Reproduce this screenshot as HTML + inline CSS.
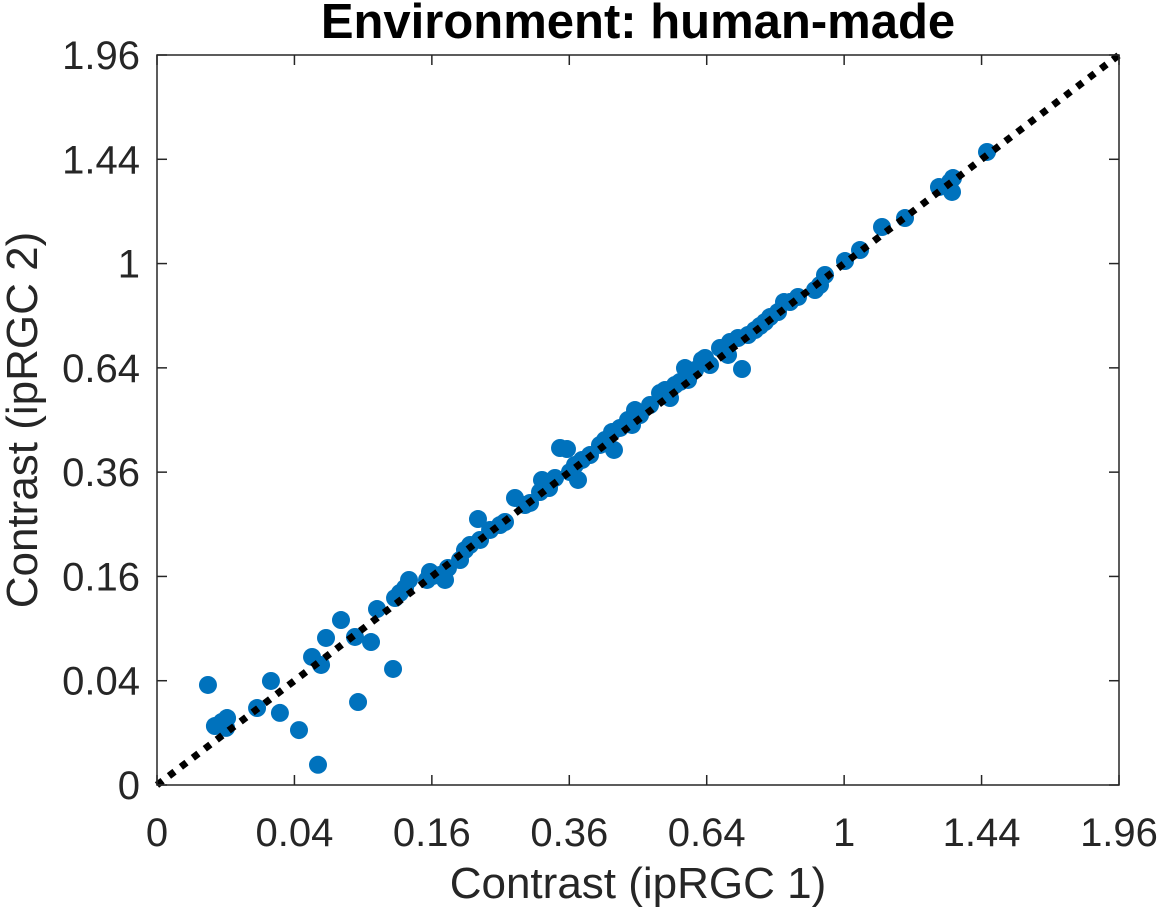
<!DOCTYPE html>
<html><head><meta charset="utf-8"><style>
body{margin:0;background:#fff;}
svg text{font-family:"Liberation Sans",Arial,sans-serif;fill:#262626;}
</style></head><body>
<svg id="chart" width="1161" height="916" xmlns="http://www.w3.org/2000/svg">
<text x="638" y="38" text-anchor="middle" font-size="49" font-weight="bold" style="fill:#000">Environment: human-made</text>
<g id="marks"></g>
<line id="diag" stroke="#000" stroke-width="7" stroke-dasharray="7 8"/>
<rect x="157" y="55" width="962" height="730" fill="none" stroke="#262626" stroke-width="1.5"/>
<g id="ticks"></g>
<text x="638" y="898" text-anchor="middle" font-size="44">Contrast (ipRGC 1)</text>
<text transform="translate(37,420) rotate(-90)" text-anchor="middle" font-size="44">Contrast (ipRGC 2)</text>
</svg>
<script>
const tickValues=[0,0.04,0.16,0.36,0.64,1,1.44,1.96];
const tickLabels=["0","0.04","0.16","0.36","0.64","1","1.44","1.96"];
const xValues=[.0055,.0071,.0089,.0104,.0101,.0212,.0275,.0320,.0427,.0509,.0549,.0570,.0605,.0717,.0830,.0856,.0970,.1025,.1180,.1200,.1250,.1303,.1345,.1544,.1578,.1613,.1696,.1757,.1793,.1945,.2009,.2075,.2182,.2210,.2349,.2492,.2565,.2714,.2868,.2947,.3107,.3139,.3255,.3355,.3440,.3560,.3612,.3700,.3754,.3826,.3971,.4156,.4251,.4385,.4423,.4540,.4698,.4779,.4839,.4941,.5148,.5359,.5466,.5574,.5683,.5793,.5904,.5972,.6130,.6291,.6361,.6477,.6713,.6906,.6954,.7149,.7248,.7398,.7574,.7701,.7829,.7959,.8168,.8326,.8486,.8702,.9170,.9310,.9450,1.0025,1.0467,1.1132,1.1850,1.2951,1.3319,1.3419,1.3386,1.4590];
const yValues=[.0368,.0128,.0146,.0165,.0120,.0218,.0398,.0191,.0111,.0603,.0015,.0530,.0795,.1001,.0806,.0253,.0752,.1139,.0495,.1286,.1356,.1427,.1546,.1546,.1669,.1607,.1622,.1546,.1732,.1862,.2031,.2119,.2602,.2208,.2392,.2486,.2544,.3030,.2883,.2925,.3157,.3422,.3244,.3467,.4177,.4152,.3603,.3766,.3422,.3885,.4005,.4252,.4378,.4583,.4128,.4688,.4900,.4767,.5172,.5035,.5311,.5652,.5738,.5508,.5885,.5974,.6395,.6033,.6334,.6643,.6706,.6488,.7024,.6801,.7218,.7349,.6365,.7448,.7614,.7749,.7884,.8055,.8228,.8580,.8580,.8759,.9012,.9195,.9567,1.0098,1.0527,1.1452,1.1824,1.3152,1.3373,1.3551,1.2934,1.4738];
const X0=157,X1=1119,Y0=785,Y1=55,SMAX=1.4;
function xs(v){return X0+Math.sqrt(v)/SMAX*(X1-X0);}
function ys(v){return Y0-Math.sqrt(v)/SMAX*(Y0-Y1);}
const NS="http://www.w3.org/2000/svg";
const marks=document.getElementById('marks');
for(let i=0;i<xValues.length;i++){
  const c=document.createElementNS(NS,'circle');
  c.setAttribute('cx',xs(xValues[i]));c.setAttribute('cy',ys(yValues[i]));
  c.setAttribute('r',9);c.setAttribute('fill','#0072BD');
  
  
  marks.appendChild(c);
}
const d=document.getElementById('diag');
d.setAttribute('x1',xs(0));d.setAttribute('y1',ys(0));d.setAttribute('x2',xs(1.96));d.setAttribute('y2',ys(1.96));
const tg=document.getElementById('ticks');
tickValues.forEach((v,i)=>{
  const x=xs(v),y=ys(v);
  [[x,Y0,x,Y0-10],[x,Y1,x,Y1+10],[X0,y,X0+10,y],[X1,y,X1-10,y]].forEach(p=>{
    const l=document.createElementNS(NS,'line');
    l.setAttribute('x1',p[0]);l.setAttribute('y1',p[1]);l.setAttribute('x2',p[2]);l.setAttribute('y2',p[3]);
    l.setAttribute('stroke','#262626');l.setAttribute('stroke-width','1.5');
    
    
    tg.appendChild(l);
  });
  const tx=document.createElementNS(NS,'text');
  tx.setAttribute('x',x);tx.setAttribute('y',846);tx.setAttribute('text-anchor','middle');tx.setAttribute('font-size','40');
  tx.textContent=tickLabels[i];
  
  
  tg.appendChild(tx);
  const ty=document.createElementNS(NS,'text');
  ty.setAttribute('x',140);ty.setAttribute('y',y+14);ty.setAttribute('text-anchor','end');ty.setAttribute('font-size','40');
  ty.textContent=tickLabels[i];
  
  
  tg.appendChild(ty);
});
</script>
</body></html>
